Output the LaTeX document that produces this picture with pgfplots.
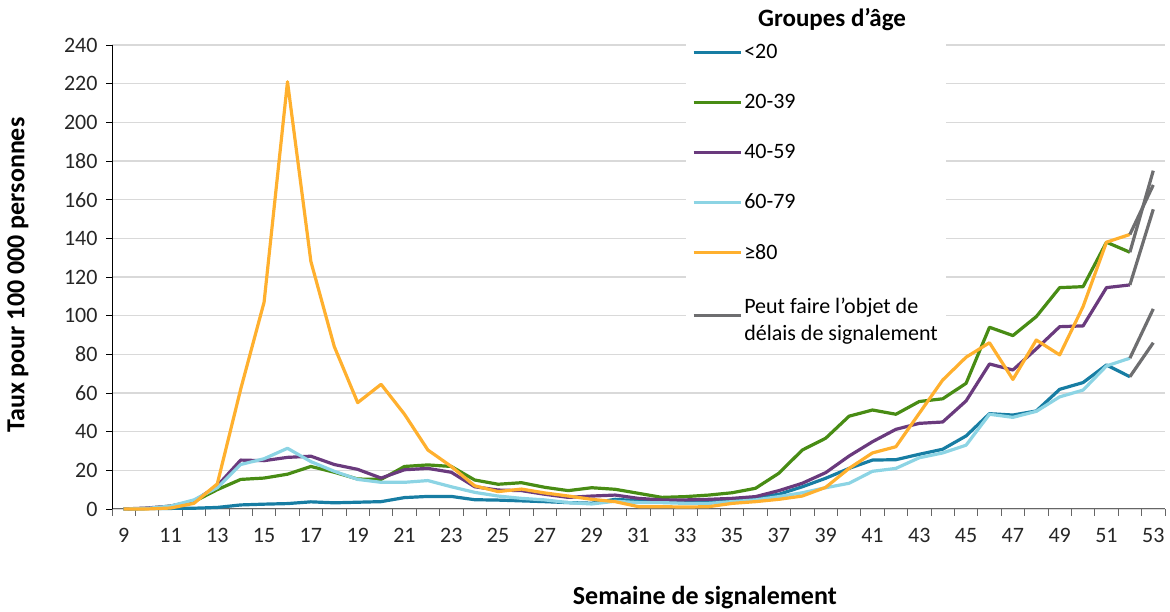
\documentclass[border=0pt]{standalone}
\usepackage{fontspec}
\setmainfont{Carlito}
\usepackage{pgfplots}
\usepackage{pgfplotstable}
\pgfplotsset{compat=1.18}
\definecolor{cA}{RGB}{23,125,163}
\definecolor{cB}{RGB}{72,140,20}
\definecolor{cC}{RGB}{106,58,125}
\definecolor{cD}{RGB}{140,212,228}
\definecolor{cE}{RGB}{255,176,46}
\definecolor{cG}{RGB}{110,110,112}
\pgfplotsset{graylegend/.style={legend image code/.code={\draw[##1] (0pt,-10pt) -- (47pt,-10pt);}}}
\pgfplotstableread{
w a b c d e
9 0 0 0 0 0
10 0.2 0.3 0.5 0.3 0
11 0.3 1.5 1.5 1.5 0.5
12 0.4 3.8 4.1 4.7 2.9
13 0.8 10 12 11 13
14 2.1 15.3 25.3 23 62
15 2.5 16 25 26 107
16 2.8 18 26.7 31.4 221
17 3.7 22 27.3 24.5 128
18 3.2 19 23 19.5 84
19 3.5 15.5 20.5 15.3 55
20 3.8 15.3 16 13.8 64.5
21 5.9 22 20.3 13.8 49
22 6.5 22.8 21 14.7 30.5
23 6.5 22 19 11.5 22
24 4.8 15 11.5 8.6 12
25 4.6 12.8 9.8 6.7 9
26 4.2 13.6 9.5 5.5 10.3
27 3.8 11.2 7.6 4.7 8.3
28 3.3 9.5 6 3.3 6.7
29 3 11 6.7 2.6 5
30 5 10.2 7.2 4 3.8
31 4.3 8.1 5.5 3.3 1.2
32 4 6 4.7 3.3 1.2
33 3.9 6.4 4.7 2.9 1
34 4.1 7.2 5 2.9 1.2
35 5 8.4 5.5 3.8 2.9
36 5.9 10.7 6.4 4.7 3.8
37 7.6 18.5 9.5 6.4 5
38 11.5 30.5 13.3 8.4 6.7
39 15.9 36.6 18.8 11 11.2
40 21 48 27.4 13.3 21
41 25.3 51.2 34.8 19.5 29
42 25.5 49 41.2 21 32.2
43 28.3 55.6 44.3 26.5 49.5
44 30.9 57 45 29 66.7
45 37.8 65 55.9 33 78.5
46 49.3 94 75 49 86
47 48.6 89.7 71.9 47.4 67
48 50.7 99.5 82.8 50.5 87.4
49 61.9 114.5 94.3 58 79.7
50 65.4 115 94.7 61.5 104.7
51 74.5 138 114.5 74 138
52 68.4 132.8 115.9 78 142
}\data
\begin{document}
\begin{tikzpicture}[x=1pt,y=1pt]
\useasboundingbox (0,0) rectangle (1170,612);
\begin{axis}[
  at={(112pt,103pt)}, anchor=south west,
  scale only axis, width=1053pt, height=464pt,
  xmin=8.5, xmax=53.5, ymin=0, ymax=240,
  axis lines=left, axis line style={-},
  x axis line style={draw=black!60, line width=1pt},
  y axis line style={draw=black, line width=0.8pt},
  xtick={9,11,...,53},
  minor xtick={8.5,9.5,...,53.5},
  ytick={0,20,...,240},
  tick align=outside,
  major tick length=6pt, minor tick length=7pt,
  major x tick style={draw=none},
  minor x tick style={draw=black!60, line width=0.8pt},
  ytick style={draw=black, line width=0.8pt},
  ymajorgrids, major grid style={draw=black!15, line width=1.2pt},
  /pgf/number format/assume math mode=true,
  ticklabel style={font=\fontsize{22}{25}\selectfont, text=black!85},
  xticklabel style={yshift=-10pt},
  yticklabel style={xshift=-5pt},
  xlabel={Semaine de signalement},
  ylabel={Taux pour 100 000 personnes},
  label style={font=\bfseries\fontsize{26}{30}\selectfont, text=black},
  xlabel style={at={(axis description cs:0.563,-0.19)}, anchor=center},
  ylabel style={at={(axis description cs:-0.0893,0.504)}, anchor=center},
  legend style={at={(axis description cs:0.545,1.014)}, anchor=north west,
    draw=none, fill=white, font=\fontsize{22}{27}\selectfont,
    row sep=30pt, inner xsep=6pt, inner ysep=4pt,
    cells={anchor=west}},
  legend image code/.code={\draw[#1] (0pt,0pt) -- (47pt,0pt);},
  every axis plot/.append style={line width=3.2pt, line join=round},
  clip=false,
]
\addplot[cA] table[x=w,y=a] {\data};
\addlegendentry{<20}
\addplot[cB] table[x=w,y=b] {\data};
\addlegendentry{20-39}
\addplot[cC] table[x=w,y=c] {\data};
\addlegendentry{40-59}
\addplot[cD] table[x=w,y=d] {\data};
\addlegendentry{60-79}
\addplot[cE] table[x=w,y=e] {\data};
\addlegendentry{≥80}
\addplot[cG, graylegend] coordinates {(52,132.8) (53,175)};
\addlegendentry{\begin{tabular}[t]{@{}l@{}}Peut faire l’objet de\\délais de signalement\end{tabular}}
\addplot[cG, forget plot] coordinates {(52,142) (53,167.6)};
\addplot[cG, forget plot] coordinates {(52,115.9) (53,155)};
\addplot[cG, forget plot] coordinates {(52,78) (53,103.5)};
\addplot[cG, forget plot] coordinates {(52,68.4) (53,86)};
\end{axis}
\node[font=\bfseries\fontsize{25}{29}\selectfont] at (832,592) {Groupes d’âge};
\end{tikzpicture}
\end{document}
